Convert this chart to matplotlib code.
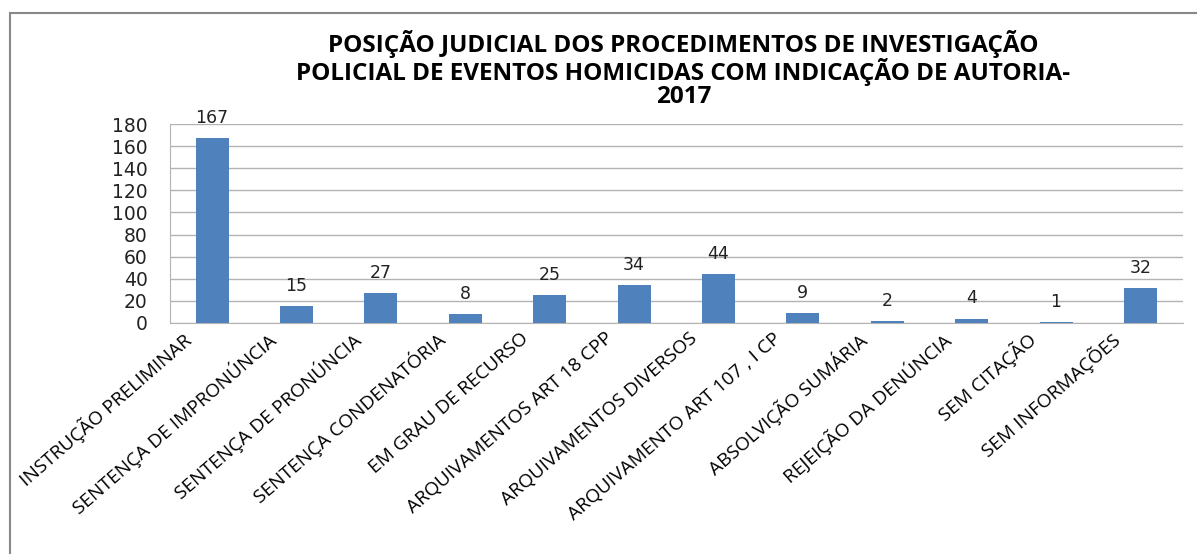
import matplotlib
matplotlib.use("Agg")
import matplotlib.pyplot as plt
from matplotlib.patches import Rectangle
from matplotlib.transforms import ScaledTranslation

CATEGORIES = [
    "INSTRUÇÃO PRELIMINAR",
    "SENTENÇA DE IMPRONÚNCIA",
    "SENTENÇA DE PRONÚNCIA",
    "SENTENÇA CONDENATÓRIA",
    "EM GRAU DE RECURSO",
    "ARQUIVAMENTOS ART 18 CPP",
    "ARQUIVAMENTOS DIVERSOS",
    "ARQUIVAMENTO ART 107 , I CP",
    "ABSOLVIÇÃO SUMÁRIA",
    "REJEIÇÃO DA DENÚNCIA",
    "SEM CITAÇÃO",
    "SEM INFORMAÇÕES",
]
VALUES = [167, 15, 27, 8, 25, 34, 44, 9, 2, 4, 1, 32]
Y_TICKS = [0, 20, 40, 60, 80, 100, 120, 140, 160, 180]
TITLE = ("POSIÇÃO JUDICIAL DOS PROCEDIMENTOS DE INVESTIGAÇÃO\n"
         "POLICIAL DE EVENTOS HOMICIDAS COM INDICAÇÃO DE AUTORIA-\n"
         "2017")

BAR_COLOR = "#4f81bd"
GRID_COLOR = "#b3b3b3"

fig = plt.figure(figsize=(11.97, 5.54), dpi=100)
ax = fig.add_axes([0.142, 0.417, 0.846, 0.359])

x = list(range(len(CATEGORIES)))
ax.bar(x, VALUES, width=0.39, color=BAR_COLOR, zorder=3)
for xi, v in zip(x, VALUES):
    ax.annotate(str(v), (xi, v), xytext=(0, 8), textcoords="offset points",
                ha="center", va="bottom", fontsize=12.5,
                family="DejaVu Sans", color="#222222")

ax.set_xlim(-0.5, len(CATEGORIES) - 0.5)
ax.set_ylim(0, 180)
ax.set_yticks(Y_TICKS)
ax.set_yticklabels([str(t) for t in Y_TICKS], fontsize=13.5, family="DejaVu Sans",
                   color="#222222")
ax.tick_params(axis="y", length=0, pad=16)
ax.tick_params(axis="x", length=0, pad=8)
ax.set_xticks(x)
ax.set_xticklabels(CATEGORIES, rotation=41, ha="right", rotation_mode="anchor",
                   fontsize=13.8, family="Open Sans")
# Excel places the slanted labels a bit left of the category centre
shift = ScaledTranslation(-30 / 100, 5 / 100, fig.dpi_scale_trans)
for lab in ax.get_xticklabels():
    lab.set_transform(lab.get_transform() + shift)
ax.yaxis.grid(True, color=GRID_COLOR, lw=1, zorder=0)
for s in ["top", "right"]:
    ax.spines[s].set_visible(False)
for s in ["left", "bottom"]:
    ax.spines[s].set_color(GRID_COLOR)

fig.text(0.571, 0.945, TITLE, ha="center", va="top", fontsize=17.5,
         fontweight="bold", family="Open Sans", linespacing=0.97)

# outer chart frame (only left/top edges visible in the crop)
fig.patches.append(Rectangle((10 / 1197, -0.1), 1.1, 0.1 + (1 - 13 / 554),
                             transform=fig.transFigure, fill=False,
                             edgecolor="#888888", lw=1.5))

fig.savefig("out.png", dpi=100)
